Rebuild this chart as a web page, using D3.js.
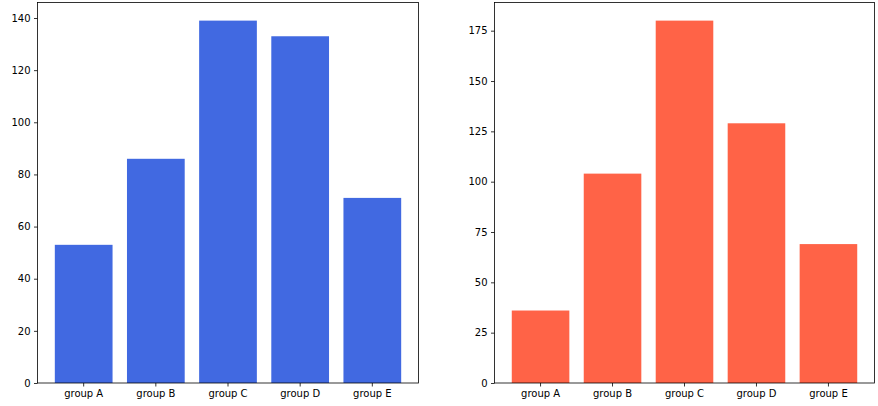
<!DOCTYPE html>
<html>
<head>
<meta charset="utf-8">
<script src="https://cdn.jsdelivr.net/npm/d3@7"></script>
<style>
  body { margin: 0; background: #fff; }
  svg text { font-family: "DejaVu Sans", sans-serif; font-size: 10px; fill: #000; }
  .axis path, .axis line { stroke: #000; stroke-width: 0.8; }
</style>
</head>
<body>
<svg id="canvas" width="878" height="406"></svg>
<script>
var groups = ["group A", "group B", "group C", "group D", "group E"];
var leftValues = [53, 86, 139, 133, 71];
var rightValues = [36, 104, 180, 129, 69];
var leftTicks = [0, 20, 40, 60, 80, 100, 120, 140];
var rightTicks = [0, 25, 50, 75, 100, 125, 150, 175];

var canvas = d3.select("#canvas");
var plotTop = 2.5, plotBottom = 383;

function drawPanel(x0, x1, values, ticks, color) {
  var g = canvas.append("g");

  var x = d3.scaleBand()
    .domain(groups)
    .range([x0, x1])
    .paddingInner(0.2)
    .paddingOuter(0.24);

  // matplotlib style 5% headroom
  var y = d3.scaleLinear()
    .domain([0, d3.max(values) * 1.05])
    .range([plotBottom, plotTop]);

  g.selectAll("rect")
    .data(values)
    .enter()
    .append("rect")
    .attr("x", function(d, i) { return x(groups[i]); })
    .attr("width", x.bandwidth())
    .attr("y", function(d) { return y(d); })
    .attr("height", function(d) { return y(0) - y(d); })
    .attr("fill", color);

  g.append("g")
    .attr("class", "axis")
    .attr("transform", "translate(0," + plotBottom + ")")
    .call(d3.axisBottom(x).tickSize(3.5).tickPadding(3.5).tickSizeOuter(0))
    .call(function(a) { a.select(".domain").remove(); });

  g.append("g")
    .attr("class", "axis")
    .attr("transform", "translate(" + x0 + ",0)")
    .call(d3.axisLeft(y).tickValues(ticks).tickSize(3.5).tickPadding(3.5).tickSizeOuter(0))
    .call(function(a) { a.select(".domain").remove(); });

  // frame
  g.append("rect")
    .attr("x", x0)
    .attr("y", plotTop)
    .attr("width", x1 - x0)
    .attr("height", plotBottom - plotTop)
    .attr("fill", "none")
    .attr("stroke", "#000")
    .attr("stroke-width", 0.8);
}

drawPanel(37.5, 418.5, leftValues, leftTicks, "#4169E1");
drawPanel(494.5, 874.5, rightValues, rightTicks, "#FF6347");
</script>
</body>
</html>
